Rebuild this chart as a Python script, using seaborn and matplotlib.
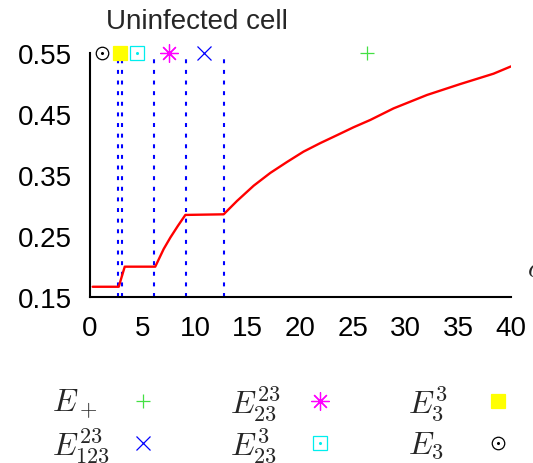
import numpy as np
import pandas as pd
import seaborn as sns
import matplotlib.pyplot as plt

sns.set_theme(style="white")
plt.rcParams["font.family"] = ["Liberation Sans", "DejaVu Sans"]
plt.rcParams["mathtext.fontset"] = "cm"

# red curve: uninfected cell level vs alpha
alpha = [0.25, 2.73, 3.3, 6.2, 7.0, 7.64, 8.35, 9.06, 12.7, 13.97, 15.55,
         17.13, 18.72, 20.29, 21.88, 23.47, 25.04, 26.63, 28.84, 32.01,
         35.18, 38.34, 40.0]
uninfected = [0.166, 0.166, 0.199, 0.199, 0.228, 0.247, 0.266, 0.284, 0.285,
              0.307, 0.332, 0.353, 0.371, 0.388, 0.402, 0.415, 0.428, 0.440,
              0.459, 0.481, 0.499, 0.516, 0.528]

# bifurcation thresholds (blue dotted lines)
thresholds = [2.7, 3.05, 6.1, 9.1, 12.75]

# equilibrium markers along the top
eq_labels = [r"$E_+$", r"$E_{123}^{23}$", r"$E_{23}^{23}$", r"$E_{23}^{3}$",
             r"$E_3^3$", r"$E_3$"]
eq_alpha = [26.3, 10.8, 7.55, 4.5, 2.85, 1.15]
eq_level = 0.55
eq_colors = ["#44e044", "#0000ff", "#ff00ff", "#00eeee", "#ffff00", "#000000"]
eq_markers = ["+", "x", (8, 2, 0), "s", "s", "o"]
eq_sizes = [10, 10, 13, 9.5, 9.5, 9]
eq_filled = [False, False, False, False, True, False]
eq_dot = [False, False, False, True, False, True]

x_ticks = [0, 5, 10, 15, 20, 25, 30, 35, 40]
y_ticks = [0.15, 0.25, 0.35, 0.45, 0.55]

df = pd.DataFrame({"alpha": alpha, "uninfected": uninfected})

W, H = 533, 464
fig = plt.figure(figsize=(W / 100, H / 100), dpi=100)
ax = fig.add_axes([90 / W, 1 - 297.5 / H, 421 / W, 243.5 / H])

sns.lineplot(data=df, x="alpha", y="uninfected", sort=False, estimator=None,
             color="#ff0000", lw=1.7, ax=ax, zorder=3)

for t in thresholds:
    ax.axvline(t, ymin=0, ymax=0.985, color="#0000ff", lw=1.5,
               dashes=(1.9, 3.2), zorder=2)


def draw_marker(a, xx, yy, i):
    fc = eq_colors[i] if eq_filled[i] else "none"
    a.plot([xx], [yy], linestyle="none", marker=eq_markers[i],
           ms=eq_sizes[i], mec=eq_colors[i], mfc=fc, mew=0.9,
           clip_on=False, zorder=5)
    if eq_dot[i]:
        a.plot([xx], [yy], linestyle="none", marker="o", ms=1.2,
               color=eq_colors[i], clip_on=False, zorder=6)


for i in range(len(eq_labels)):
    draw_marker(ax, eq_alpha[i], eq_level, i)

ax.set_xlim(0, 40)
ax.set_ylim(0.15, 0.55)
ax.set_xticks(x_ticks)
ax.set_yticks(y_ticks)
ax.set_xticklabels([str(v) for v in x_ticks])
ax.set_yticklabels([f"{v:.2f}" for v in y_ticks])
ax.tick_params(direction="in", length=8.5, width=1.3, labelsize=20,
               pad=13, colors="black")
for side in ["top", "right"]:
    ax.spines[side].set_visible(False)
for side in ["left", "bottom"]:
    ax.spines[side].set_linewidth(1.5)
    ax.spines[side].set_color("black")
ax.set_xlabel("")
ax.set_ylabel("")
ax.grid(False)

fig.text(197 / W, 1 - 22 / H, "Uninfected cell", ha="center", va="center",
         fontsize=20)
fig.text(527 / W, 1 - 270 / H, r"$\alpha$", ha="left", va="center",
         fontsize=20)

# legend below the plot: label on the left, symbol on the right
lax = fig.add_axes([0, 0, 1, 1], zorder=-1)
lax.set_xlim(0, W)
lax.set_ylim(H, 0)
lax.axis("off")
col_text = [52, 230, 408]
col_mark = [143, 320, 498]
row_y = [404, 446]
order = [0, 2, 4, 1, 3, 5]
for k, i in enumerate(order):
    r, c = k // 3, k % 3
    lax.text(col_text[c], row_y[r], eq_labels[i], ha="left", va="center",
             fontsize=23)
    draw_marker(lax, col_mark[c], row_y[r] - 2, i)

fig.savefig("out.png", dpi=100)
